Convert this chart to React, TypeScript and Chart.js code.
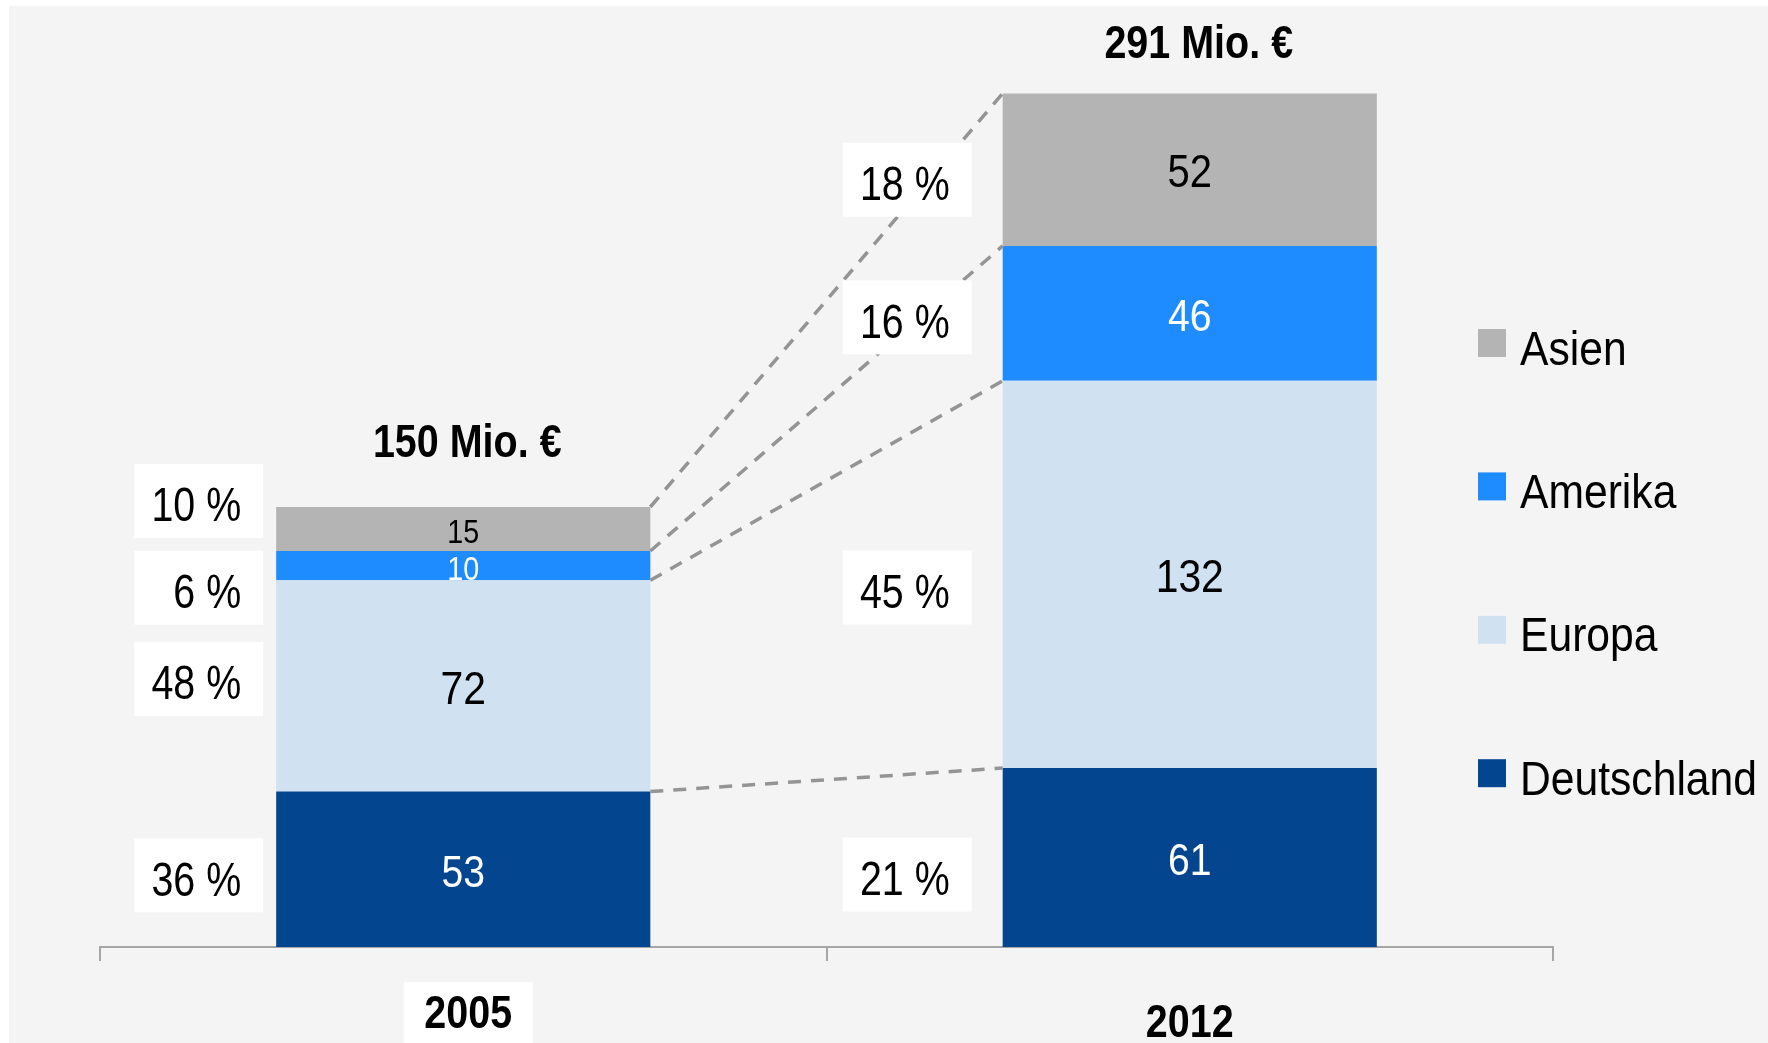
import React, { useEffect, useRef } from "react";
import { Chart, registerables } from "chart.js";

Chart.register(...registerables);

// ---- data ----
const years = ["2005", "2012"];
const seriesNames = ["Deutschland", "Europa", "Amerika", "Asien"];
const deutschland = [53, 61];
const europa = [72, 132];
const amerika = [10, 46];
const asien = [15, 52];
const totalLabels = ["150 Mio. €", "291 Mio. €"];
const pctDeutschland = ["36 %", "21 %"];
const pctEuropa = ["48 %", "45 %"];
const pctAmerika = ["6 %", "16 %"];
const pctAsien = ["10 %", "18 %"];
const yMax = 300;

// ---- styles ----
const colors = ["#03468F", "#D0E1F2", "#1E8CFF", "#B4B4B4"];
const labelColors = ["#FFFFFF", "#000000", "#FFFFFF", "#000000"];
const labelSizes = [
  [45, 45],
  [47, 47],
  [33, 45],
  [33, 46],
];
// vertical offsets of the percentage boxes from the segment centre (px)
const pctBoxDy = [
  [6, 17],
  [-7, 13],
  [22, 4],
  [-28, 10],
];
const pctBoxGap = [13, 31];
const totalDx = [4, 9];
const totalDy = [-63, -48];
const xLabelDx = [5, 0];
const xLabelDy = [68, 77];
const xLabelBox = [true, false];
const FONT = '"Liberation Sans", Arial, sans-serif';
const SX = 0.87;
const SXB = 0.84;
const SXP = 0.82;

function txt(
  ctx: CanvasRenderingContext2D,
  s: string,
  x: number,
  y: number,
  size: number,
  bold: boolean,
  color: string,
  align: CanvasTextAlign,
  sx?: number
) {
  ctx.save();
  ctx.font = `${bold ? "bold " : ""}${size}px ${FONT}`;
  ctx.fillStyle = color;
  ctx.textAlign = align;
  ctx.textBaseline = "middle";
  ctx.translate(x, y);
  ctx.scale(sx ?? (bold ? SXB : SX), 1);
  ctx.fillText(s, 0, 0);
  ctx.restore();
}

const overlayPlugin = {
  id: "overlay",
  afterDatasetsDraw(chart: any) {
    const ctx: CanvasRenderingContext2D = chart.ctx;
    const n = chart.data.datasets.length;
    const metas = chart.data.datasets.map((_: any, i: number) => chart.getDatasetMeta(i));
    const pcts = [pctDeutschland, pctEuropa, pctAmerika, pctAsien];

    // dashed connectors
    ctx.save();
    ctx.strokeStyle = "#949494";
    ctx.lineWidth = 3.5;
    ctx.setLineDash([13, 10]);
    for (let k = 0; k < n; k++) {
      const a = metas[k].data[0];
      const b = metas[k].data[1];
      ctx.beginPath();
      ctx.moveTo(a.x + a.width / 2, a.y);
      ctx.lineTo(b.x - b.width / 2, b.y);
      ctx.stroke();
    }
    ctx.restore();

    // percentage boxes
    for (let k = 0; k < n; k++) {
      metas[k].data.forEach((el: any, j: number) => {
        const cy = (el.y + el.base) / 2 + pctBoxDy[k][j];
        const right = el.x - el.width / 2 - pctBoxGap[j];
        const w = 129;
        const h = 74;
        ctx.fillStyle = "#FFFFFF";
        ctx.fillRect(right - w, cy - h / 2, w, h);
        txt(ctx, pcts[k][j], right - 22, cy + 7, 48, false, "#000000", "right", SXP);
      });
    }

    // value labels in the segments
    for (let k = 0; k < n; k++) {
      const ds = chart.data.datasets[k];
      metas[k].data.forEach((el: any, j: number) => {
        const cy = (el.y + el.base) / 2;
        txt(ctx, String(ds.data[j]), el.x, cy + 5, labelSizes[k][j], false, labelColors[k], "center");
      });
    }

    // totals above bars
    const top = metas[n - 1];
    top.data.forEach((el: any, j: number) => {
      txt(ctx, totalLabels[j], el.x + totalDx[j], el.y + totalDy[j], 47, true, "#000000", "center");
    });

    // x labels
    const xs = chart.scales.x;
    const axisY = chart.chartArea.bottom;
    years.forEach((y, j) => {
      const cx = xs.getPixelForValue(j) + xLabelDx[j];
      const cy = axisY + xLabelDy[j];
      if (xLabelBox[j]) {
        ctx.fillStyle = "#FFFFFF";
        ctx.fillRect(cx - 64.5, cy - 33, 129, 200);
      }
      txt(ctx, y, cx, cy, 47, true, "#000000", "center");
    });

    // legend (top to bottom: reverse of stacking order)
    const lx = 1469;
    const ly0 = 337;
    const step = 143.4;
    for (let i = 0; i < n; i++) {
      const k = n - 1 - i;
      const cy = ly0 + i * step;
      ctx.fillStyle = colors[k];
      ctx.fillRect(lx, cy - 14, 28, 28);
      txt(ctx, seriesNames[k], lx + 42, cy + 8, 49, false, "#000000", "left");
    }
  },
};

export default function App() {
  const ref = useRef<HTMLCanvasElement | null>(null);
  useEffect(() => {
    if (!ref.current) return;
    const seriesData = [deutschland, europa, amerika, asien];
    const chart = new Chart(ref.current, {
      type: "bar",
      data: {
        labels: years,
        datasets: seriesNames.map((name, i) => ({
          label: name,
          data: seriesData[i],
          backgroundColor: colors[i],
          borderWidth: 0,
          barPercentage: 0.515,
          categoryPercentage: 1,
        })),
      },
      options: {
        responsive: false,
        animation: false,
        devicePixelRatio: 1,
        layout: { padding: { left: 91, right: 215, top: 61, bottom: 82 } },
        plugins: {
          legend: { display: false },
          tooltip: { enabled: false },
          title: { display: false },
        },
        scales: {
          x: {
            stacked: true,
            grid: {
              display: true,
              drawOnChartArea: false,
              drawTicks: true,
              tickLength: 14,
              color: "#A6A6A6",
              lineWidth: 2,
              offset: true,
            },
            border: { display: true, color: "#A6A6A6", width: 2 },
            ticks: { display: false },
          },
          y: {
            stacked: true,
            display: false,
            min: 0,
            max: yMax,
          },
        },
      },
      plugins: [overlayPlugin],
    });
    return () => chart.destroy();
  }, []);
  return (
    <div style={{ position: "fixed", left: 9, top: 6, width: 1759, height: 1037, background: "#F4F4F4" }}>
      <canvas ref={ref} width={1759} height={1037} style={{ display: "block" }} />
    </div>
  );
}
